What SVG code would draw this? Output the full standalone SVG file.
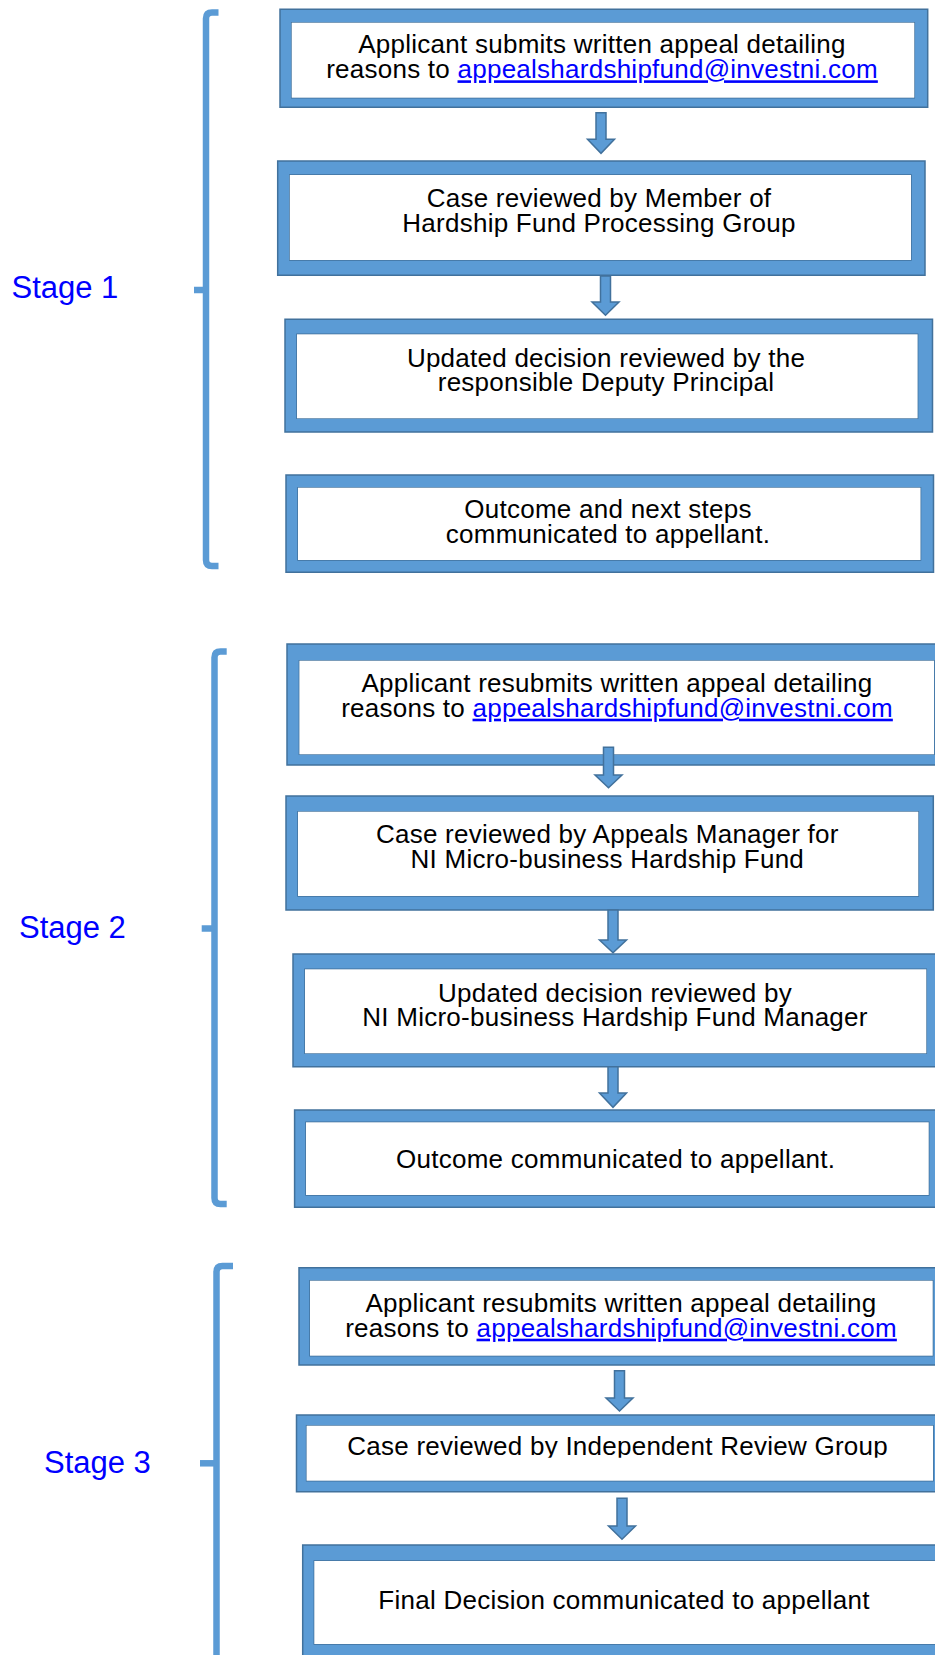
<svg xmlns="http://www.w3.org/2000/svg" width="935" height="1655" viewBox="0 0 935 1655">
<style>
.frame{fill:#5B9BD5;fill-rule:evenodd;stroke:#41719C;stroke-width:1.5}
.inner{fill:#FFFFFF}
.t{font-family:"Liberation Sans",Arial,sans-serif;font-size:26px;letter-spacing:0.25px;fill:#000;text-anchor:middle}
.link{fill:#0000FF;text-decoration:underline}
.stage{font-family:"Liberation Sans",Arial,sans-serif;font-size:31px;fill:#0000FF}
.br{fill:none;stroke:#5B9BD5;stroke-width:6.5;stroke-linejoin:round}
.arrow{fill:#5B9BD5;stroke:#41719C;stroke-width:1.5;stroke-linejoin:miter}
</style>
<defs>
<clipPath id="clip10"><rect x="300" y="1420" width="640" height="37.8"/></clipPath>
</defs>
<rect width="935" height="1655" fill="#FFFFFF"/>

<g id="stage1">
<path class="br" d="M218.5,12.5 H212 Q206,12.5 206,18.5 V560 Q206,566 212,566 H218.5"/>
<path class="br" d="M194,290 H206"/>
<text class="stage" x="11.5" y="298">Stage 1</text>
</g>
<g id="stage2">
<path class="br" d="M226.7,651.5 H220.5 Q214.5,651.5 214.5,657.5 V1198 Q214.5,1204 220.5,1204 H226.7"/>
<path class="br" d="M201.7,928.5 H214.5"/>
<text class="stage" x="19" y="938">Stage 2</text>
</g>
<g id="stage3">
<path class="br" d="M233,1266 H222.5 Q216.5,1266 216.5,1272 V1660"/>
<path class="br" d="M200,1463.3 H216.5"/>
<text class="stage" x="44" y="1473">Stage 3</text>
</g>

<g id="node1">
<path class="frame" d="M280,9.3 H927.7 V107.3 H280 Z M291.7,22.7 V97.7 H914.3 V22.7 Z"/>
<rect class="inner" x="291.7" y="22.7" width="622.6" height="75"/>
<text class="t" x="602" y="53.3"><tspan x="602">Applicant submits written appeal detailing</tspan><tspan x="602" dy="25">reasons to </tspan><tspan class="link">appealshardshipfund@investni.com</tspan></text>
</g>
<g id="node2">
<path class="frame" d="M277.7,161 H925 V275.3 H277.7 Z M289.8,175 V260 H911 V175 Z"/>
<rect class="inner" x="289.8" y="175" width="621.2" height="85"/>
<text class="t" x="599" y="206.7"><tspan x="599">Case reviewed by Member of</tspan><tspan x="599" dy="25">Hardship Fund Processing Group</tspan></text>
</g>
<g id="node3">
<path class="frame" d="M285,319.3 H932.5 V432 H285 Z M297,334.3 V418.3 H917.6 V334.3 Z"/>
<rect class="inner" x="297" y="334.3" width="620.6" height="84"/>
<text class="t" x="606" y="366.7"><tspan x="606">Updated decision reviewed by the</tspan><tspan x="606" dy="24">responsible Deputy Principal</tspan></text>
</g>
<g id="node4">
<path class="frame" d="M286,475 H933.5 V572.3 H286 Z M298,487.7 V560 H920.5 V487.7 Z"/>
<rect class="inner" x="298" y="487.7" width="622.5" height="72.3"/>
<text class="t" x="608" y="518.3"><tspan x="608">Outcome and next steps</tspan><tspan x="608" dy="24.4">communicated to appellant.</tspan></text>
</g>
<g id="node5">
<path class="frame" d="M287,644 H940 V765 H287 Z M299.4,660.7 V754.3 H934 V660.7 Z"/>
<rect class="inner" x="299.4" y="660.7" width="634.6" height="93.6"/>
<text class="t" x="617" y="691.7"><tspan x="617">Applicant resubmits written appeal detailing</tspan><tspan x="617" dy="25">reasons to </tspan><tspan class="link">appealshardshipfund@investni.com</tspan></text>
</g>
<g id="node6">
<path class="frame" d="M286,796 H933.3 V910 H286 Z M298,811.7 V896 H918.3 V811.7 Z"/>
<rect class="inner" x="298" y="811.7" width="620.3" height="84.3"/>
<text class="t" x="607.3" y="843.3"><tspan x="607.3">Case reviewed by Appeals Manager for</tspan><tspan x="607.3" dy="24.4">NI Micro-business Hardship Fund</tspan></text>
</g>
<g id="node7">
<path class="frame" d="M293,954 H945 V1066.7 H293 Z M305,969.3 V1053.3 H926.3 V969.3 Z"/>
<rect class="inner" x="305" y="969.3" width="621.3" height="84"/>
<text class="t" x="615" y="1001.7"><tspan x="615">Updated decision reviewed by</tspan><tspan x="615" dy="24.3">NI Micro-business Hardship Fund Manager</tspan></text>
</g>
<g id="node8">
<path class="frame" d="M294.6,1110 H945 V1207.3 H294.6 Z M306,1122.3 V1195 H928.7 V1122.3 Z"/>
<rect class="inner" x="306" y="1122.3" width="622.7" height="72.7"/>
<text class="t" x="615.7" y="1168.3">Outcome communicated to appellant.</text>
</g>
<g id="node9">
<path class="frame" d="M299,1267.7 H945 V1365 H299 Z M310,1280.7 V1355.7 H932.7 V1280.7 Z"/>
<rect class="inner" x="310" y="1280.7" width="622.7" height="75"/>
<text class="t" x="621" y="1311.7"><tspan x="621">Applicant resubmits written appeal detailing</tspan><tspan x="621" dy="25">reasons to </tspan><tspan class="link">appealshardshipfund@investni.com</tspan></text>
</g>
<g id="node10">
<path class="frame" d="M296.5,1415 H945 V1491.7 H296.5 Z M306.6,1425.7 V1480.7 H933 V1425.7 Z"/>
<rect class="inner" x="306.6" y="1425.7" width="626.4" height="55"/>
<text class="t" x="617.6" y="1455" clip-path="url(#clip10)">Case reviewed by Independent Review Group</text>
</g>
<g id="node11">
<path class="frame" d="M302.7,1545 H945 V1665 H302.7 Z M314.3,1561 V1644 H940 V1561 Z"/>
<rect class="inner" x="314.3" y="1561" width="625.7" height="83"/>
<text class="t" x="624" y="1609">Final Decision communicated to appellant</text>
</g>

<g id="connectors">
<polygon class="arrow" points="596,112.7 606,112.7 606,139.3 614.5,139.3 601,153.3 587.5,139.3 596,139.3"/>
<polygon class="arrow" points="600.5,276 610.5,276 610.5,302 619,302 605.5,315.3 592,302 600.5,302"/>
<polygon class="arrow" points="603.5,747.3 613.5,747.3 613.5,775 622,775 608.5,787.7 595,775 603.5,775"/>
<polygon class="arrow" points="608,910 618,910 618,940 626.5,940 613,952.7 599.5,940 608,940"/>
<polygon class="arrow" points="608,1066.7 618,1066.7 618,1093 626.5,1093 613,1107.3 599.5,1093 608,1093"/>
<polygon class="arrow" points="614.5,1370.7 624.5,1370.7 624.5,1398 633,1398 619.5,1411 606,1398 614.5,1398"/>
<polygon class="arrow" points="617,1498.3 627,1498.3 627,1526 635.5,1526 622,1539.3 608.5,1526 617,1526"/>
</g>
</svg>
